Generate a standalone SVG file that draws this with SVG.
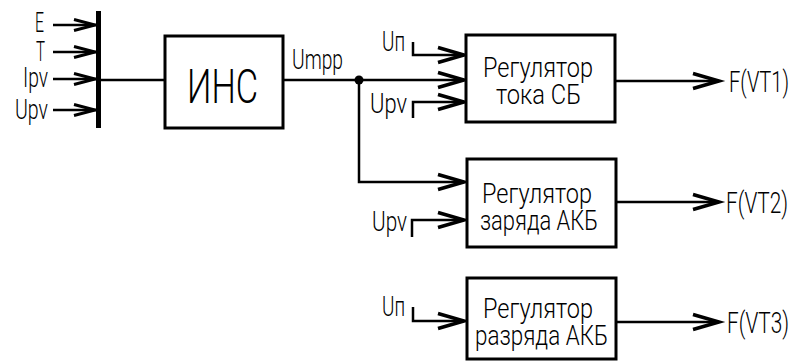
<svg xmlns="http://www.w3.org/2000/svg" width="792" height="363" viewBox="0 0 792 363">
<style>
.t{font-family:Roboto,"DejaVu Sans Condensed",sans-serif;font-weight:300;font-size:27px;fill:#000}
.f{font-size:29px}
.box{fill:#fff;stroke:#000;stroke-width:3}
.ln{fill:none;stroke:#000;stroke-width:2.5}
.ch{fill:none;stroke:#000;stroke-width:3.5;stroke-linejoin:miter}
</style>
<defs>
<path id="ca" class="ch" d="M-26,-7.5 L0,0 L-26,7.5"/>
<path id="cs" class="ch" d="M-21,-5.5 L0,0 L-21,5.5" style="stroke-width:3"/>
</defs>
<rect width="792" height="363" fill="#fff"/>
<g id="connectors">
<line class="ln" x1="53" y1="25" x2="96" y2="25"/>
<line class="ln" x1="53" y1="52" x2="96" y2="52"/>
<line class="ln" x1="53" y1="79" x2="96" y2="79"/>
<line class="ln" x1="53" y1="110" x2="96" y2="110"/>
<use href="#cs" x="95" y="25"/>
<use href="#cs" x="95" y="52"/>
<use href="#cs" x="95" y="79"/>
<use href="#cs" x="95" y="110"/>
<line class="ln" x1="100" y1="80" x2="165" y2="80"/>
<line class="ln" x1="283" y1="80" x2="464" y2="80"/>
<circle cx="359" cy="80" r="4.5" fill="#000"/>
<polyline class="ln" points="359,80 359,182 464,182"/>
<polyline class="ln" points="413,42 413,55 464,55"/>
<polyline class="ln" points="413,118 413,102 464,102"/>
<polyline class="ln" points="412,237 412,220 464,220"/>
<polyline class="ln" points="413,307 413,321 464,321"/>
<line class="ln" x1="615" y1="81" x2="719" y2="81"/>
<line class="ln" x1="616" y1="202" x2="719" y2="202"/>
<line class="ln" x1="616" y1="322" x2="719" y2="322"/>
<use href="#ca" x="464" y="55"/>
<use href="#ca" x="464" y="80"/>
<use href="#ca" x="464" y="102"/>
<use href="#ca" x="464" y="182"/>
<use href="#ca" x="464" y="220"/>
<use href="#ca" x="464" y="321"/>
<use href="#ca" x="719" y="81"/>
<use href="#ca" x="719" y="202"/>
<use href="#ca" x="719" y="322"/>
</g>
<g id="bus">
<rect x="96" y="11" width="5" height="117" fill="#000"/>
<text class="t" x="35" y="32" textLength="9" lengthAdjust="spacingAndGlyphs">E</text>
<text class="t" x="36" y="61" textLength="9" lengthAdjust="spacingAndGlyphs">T</text>
<text class="t" x="23" y="87" textLength="25" lengthAdjust="spacingAndGlyphs">Ipv</text>
<text class="t" x="15" y="119" textLength="33" lengthAdjust="spacingAndGlyphs">Upv</text>
</g>
<g id="ins">
<rect class="box" x="165" y="36" width="118" height="92"/>
<text x="187" y="103" style="font-family:Roboto,'DejaVu Sans Condensed',sans-serif;font-weight:300;font-size:49px" textLength="71" lengthAdjust="spacingAndGlyphs">ИНС</text>
<text class="t" x="292" y="69" textLength="51" lengthAdjust="spacingAndGlyphs">Umpp</text>
</g>
<g id="reg1">
<rect class="box" x="466" y="35" width="149" height="87"/>
<text class="t" x="483" y="77" textLength="110" lengthAdjust="spacingAndGlyphs">Регулятор</text>
<text class="t" x="496" y="104" textLength="85" lengthAdjust="spacingAndGlyphs">тока СБ</text>
<text class="t" x="382" y="51" textLength="23" lengthAdjust="spacingAndGlyphs">Uп</text>
<text class="t" x="370" y="113" textLength="37" lengthAdjust="spacingAndGlyphs">Upv</text>
<text class="t f" transform="translate(729,92) scale(0.7,1)" textLength="85.7" lengthAdjust="spacingAndGlyphs">F(VT1)</text>
</g>
<g id="reg2">
<rect class="box" x="467" y="159" width="149" height="88"/>
<text class="t" x="482" y="203" textLength="110" lengthAdjust="spacingAndGlyphs">Регулятор</text>
<text class="t" x="480" y="230" textLength="118" lengthAdjust="spacingAndGlyphs">заряда АКБ</text>
<text class="t" x="372" y="231" textLength="35" lengthAdjust="spacingAndGlyphs">Upv</text>
<text class="t f" transform="translate(726,213) scale(0.7,1)" textLength="88.6" lengthAdjust="spacingAndGlyphs">F(VT2)</text>
</g>
<g id="reg3">
<rect class="box" x="467" y="278" width="149" height="81"/>
<text class="t" x="483" y="318" textLength="110" lengthAdjust="spacingAndGlyphs">Регулятор</text>
<text class="t" x="475" y="345" textLength="133" lengthAdjust="spacingAndGlyphs">разряда АКБ</text>
<text class="t" x="382" y="316" textLength="23" lengthAdjust="spacingAndGlyphs">Uп</text>
<text class="t f" transform="translate(727,333) scale(0.7,1)" textLength="88.6" lengthAdjust="spacingAndGlyphs">F(VT3)</text>
</g>
</svg>
